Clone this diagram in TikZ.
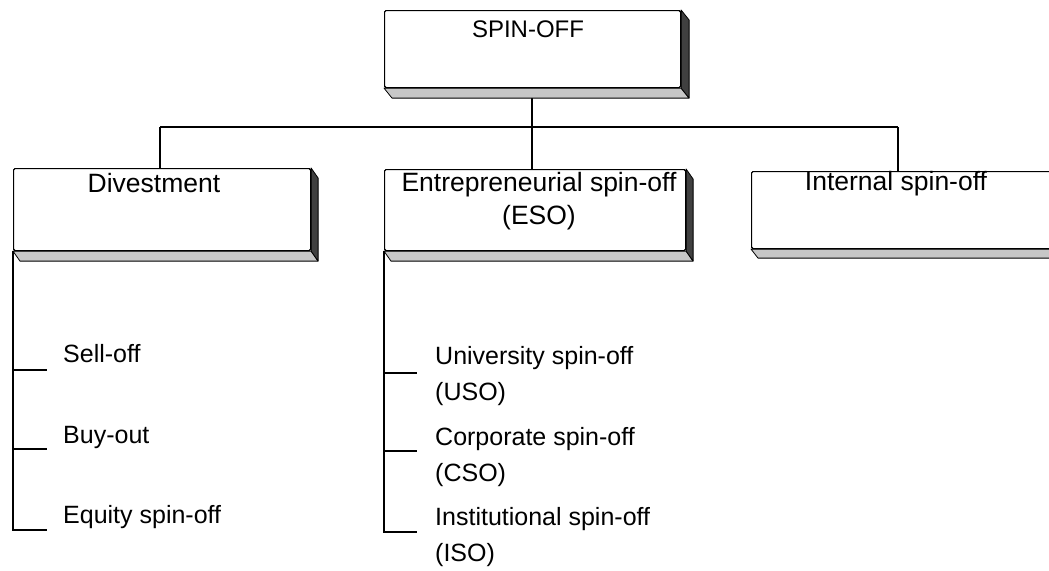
\documentclass[tikz,border=0pt]{standalone}
\usepackage{fontspec}
\setmainfont{Liberation Sans}
\tikzset{
  x=1pt, y=-1pt,
  conn/.style={draw=black, line width=1.1pt},
  boxmain/.style={draw=black, line width=1.1pt, fill=white, rounded corners=1.5pt,
    inner sep=0pt, anchor=north west},
  rface/.style={fill=black!75, draw=black, line width=0.8pt, line join=round},
  bface/.style={fill=black!22, draw=black, line width=0.8pt, line join=round},
  boxtext/.style={font=\fontsize{26.5}{33}\selectfont, align=center, inner sep=0pt},
  itemtext/.style={font=\fontsize{25}{36}\selectfont, align=left, inner sep=0pt},
}
% #1 name, #2 x0, #3 y0, #4 width, #5 height, #6 dx, #7 dy
\newcommand\soBox[7]{%
  \node[boxmain, minimum width=#4pt, minimum height=#5pt] (#1) at (#2,#3) {};
  \path[bface] (#1.south west) -- (#1.south east) -- ++(#6,#7) -- ($(#1.south west)+(#6,#7)$) -- cycle;
  \path[rface] (#1.north east) -- ++(#6,#7) -- ($(#1.south east)+(#6,#7)$) -- (#1.south east) -- cycle;
  \node[boxmain, minimum width=#4pt, minimum height=#5pt] at (#2,#3) {};
}
\usetikzlibrary{calc}
\begin{document}
\begin{tikzpicture}
\useasboundingbox (0,0) rectangle (1049,570);
\clip (0,0) rectangle (1049,570);

% junction coordinates of the bus
\coordinate (jL) at (160,127);
\coordinate (jM) at (532,127);
\coordinate (jR) at (898,127);

% connectors drawn before boxes
\draw[conn] (532,87) -- (jM);
\draw[conn] (jL) -- (jR);
\draw[conn] (jL) -- (160,168);
\draw[conn] (jM) -- (532,169);
\draw[conn] (jR) -- (898,171);

% boxes
\soBox{top}{384}{10}{296}{77}{8}{10}
\soBox{div}{13}{168}{297}{82}{7}{10}
\soBox{eso}{384}{169}{301}{81}{7}{10}
\soBox{int}{751}{171}{320}{77}{7}{9}

% box texts
\node[boxtext, anchor=base, font=\fontsize{24}{30}\selectfont] (tTop) at (528,37) {SPIN-OFF};
\node[boxtext, anchor=base] (tDiv) at (154,192) {Divestment};
\node[boxtext, anchor=north] (tEso) at (539,172) {Entrepreneurial spin-off\\(ESO)};
\node[boxtext, anchor=base] (tInt) at (896,190) {Internal spin-off};

% Divestment list
\coordinate (d1) at (47,370);
\coordinate (d2) at (47,449);
\coordinate (d3) at (47,530);
\draw[conn] (div.south west) -- (div.south west |- d3) -- (d3);
\draw[conn] (div.south west |- d1) -- (d1);
\draw[conn] (div.south west |- d2) -- (d2);
\node[itemtext, anchor=base west] (sell) at (63,362) {Sell-off};
\node[itemtext, anchor=base west] (buy) at (63,443) {Buy-out};
\node[itemtext, anchor=base west] (equ) at (63,523) {Equity spin-off};

% ESO list
\coordinate (e1) at (417,373);
\coordinate (e2) at (417,451);
\coordinate (e3) at (417,532);
\draw[conn] (eso.south west) -- (eso.south west |- e3) -- (e3);
\draw[conn] (eso.south west |- e1) -- (e1);
\draw[conn] (eso.south west |- e2) -- (e2);
\node[itemtext, anchor=north west] (uso) at (435,346) {University spin-off\\(USO)};
\node[itemtext, anchor=north west] (cso) at (435,427) {Corporate spin-off\\(CSO)};
\node[itemtext, anchor=north west] (iso) at (435,507) {Institutional spin-off\\(ISO)};
\end{tikzpicture}
\end{document}
